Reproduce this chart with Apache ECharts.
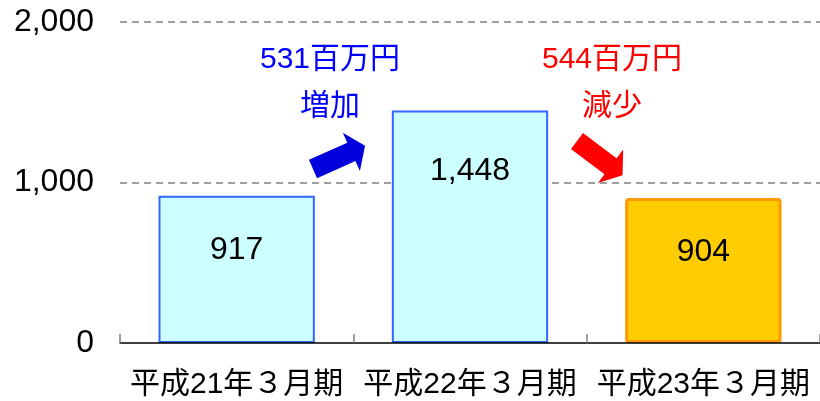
<!DOCTYPE html>
<html>
<head>
<meta charset="utf-8">
<script src="https://cdn.jsdelivr.net/npm/echarts@6/dist/echarts.min.js"></script>
<style>
  html, body { margin: 0; padding: 0; background: #fff; }
  #chart { width: 820px; height: 401px; }
</style>
</head>
<body>
<div id="chart"></div>
<script>
  var categories = ['平成21年３月期', '平成22年３月期', '平成23年３月期'];
  var values = [917, 1448, 904];
  var yMax = 2000;
  var yStep = 1000;
  var changeAmounts = ['531百万円', '544百万円'];
  var changeWords = ['増加', '減少'];

  var FONT = '"Liberation Sans", Arial, "Noto Sans CJK JP", sans-serif';
  var blueBar = { color: '#ccffff', borderColor: '#3366ff', borderWidth: 2 };
  var orangeBar = { color: '#ffcc00', borderColor: '#ff9900', borderWidth: 3, borderRadius: 2 };

  // arrow shape, tail at 0, tip at x = 57
  var arrowPts = [[0, -10], [42, -10], [42, -21], [57, 0], [42, 21], [42, 10], [0, 10]];

  var barData = values.map(function (v, i) {
    return {
      value: v,
      itemStyle: i === values.length - 1 ? orangeBar : blueBar,
      label: { distance: i === 1 ? 45 : 38 }
    };
  });

  var chart = echarts.init(document.getElementById('chart'));
  window.addEventListener('resize', function () { chart.resize(); });

  chart.setOption({
    animation: false,
    grid: { left: 120, right: -7, top: 22, bottom: 58 },
    xAxis: {
      type: 'category',
      data: categories,
      z: 5,
      axisLine: { lineStyle: { color: '#000', width: 1.5 } },
      axisTick: { show: true, interval: 0, inside: true, length: 9,
        lineStyle: { color: '#808080', width: 1.5 } },
      axisLabel: { interval: 0, fontSize: 30, color: '#000', margin: 27, fontFamily: FONT }
    },
    yAxis: {
      type: 'value',
      min: 0,
      max: yMax,
      interval: yStep,
      axisLine: { show: false },
      axisTick: { show: false },
      axisLabel: { fontSize: 32, color: '#000', margin: 26, fontFamily: FONT },
      splitLine: { showMinLine: false, lineStyle: { color: '#808080', type: [7, 5], width: 1.5 } }
    },
    series: [{
      type: 'bar',
      data: barData,
      barWidth: '67%',
      label: {
        show: true,
        position: 'insideTop',
        fontSize: 32,
        color: '#000',
        fontFamily: FONT,
        formatter: function (p) { return p.value.toLocaleString('en-US'); }
      }
    }],
    graphic: [
      { type: 'polygon', x: 313, y: 169, rotation: 24 * Math.PI / 180,
        shape: { points: arrowPts }, style: { fill: '#0000dd' } },
      { type: 'polygon', x: 577, y: 141, rotation: -37 * Math.PI / 180,
        shape: { points: arrowPts }, style: { fill: '#ff0000' } },
      { type: 'text', x: 330, y: 60, style: { text: changeAmounts[0], fill: '#0000ff',
        font: '30px ' + FONT, textAlign: 'center', textVerticalAlign: 'middle' } },
      { type: 'text', x: 330, y: 107, style: { text: changeWords[0], fill: '#0000ff',
        font: '30px ' + FONT, textAlign: 'center', textVerticalAlign: 'middle' } },
      { type: 'text', x: 612, y: 60, style: { text: changeAmounts[1], fill: '#ff0000',
        font: '30px ' + FONT, textAlign: 'center', textVerticalAlign: 'middle' } },
      { type: 'text', x: 612, y: 107, style: { text: changeWords[1], fill: '#ff0000',
        font: '30px ' + FONT, textAlign: 'center', textVerticalAlign: 'middle' } }
    ]
  });
</script>
</body>
</html>
